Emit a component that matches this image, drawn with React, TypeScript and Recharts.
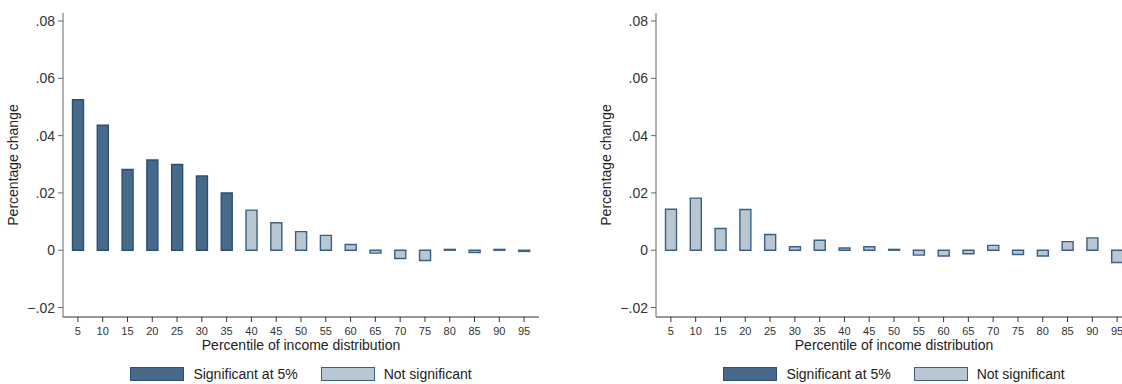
import { Bar, BarChart, Cell, Legend, XAxis, YAxis } from "recharts"

const percentiles = ["5", "10", "15", "20", "25", "30", "35", "40", "45", "50", "55", "60", "65", "70", "75", "80", "85", "90", "95"]

const leftValues = [0.0525, 0.0436, 0.0282, 0.0315, 0.0299, 0.0259, 0.02, 0.014, 0.0096, 0.0065, 0.0052, 0.002, -0.001, -0.0029, -0.0036, 0.0003, -0.0008, 0.0003, -0.0004]
const leftSignificant = [true, true, true, true, true, true, true, false, false, false, false, false, false, false, false, false, false, false, false]

const rightValues = [0.0143, 0.0182, 0.0076, 0.0142, 0.0055, 0.0012, 0.0035, 0.0008, 0.0012, 0.0003, -0.0017, -0.002, -0.0012, 0.0017, -0.0015, -0.002, 0.003, 0.0043, -0.0043]
const rightSignificant = [false, false, false, false, false, false, false, false, false, false, false, false, false, false, false, false, false, false, false]

const yTicks = [-0.02, 0, 0.02, 0.04, 0.06, 0.08]

const FONT = '"Liberation Sans", Arial, sans-serif'
const DARK_FILL = "#476a8b"
const DARK_STROKE = "#2b5075"
const LIGHT_FILL = "#b9c7d3"
const LIGHT_STROKE = "#3b6085"

// stata style: .02, 0, −.02
const fmt = (v: number) => {
  if (Math.abs(v) < 1e-9) return "0"
  return (v < 0 ? "\u2212" : "") + Math.abs(v).toFixed(2).replace(/^0/, "")
}

function LegendBox() {
  const item = (fill: string, stroke: string, text: string) => (
    <div style={{ display: "flex", alignItems: "center" }}>
      <div style={{ width: 52, height: 12, background: fill, border: `1.5px solid ${stroke}` }} />
      <span style={{ marginLeft: 9, fontSize: 14, fontFamily: FONT, color: "#222" }}>{text}</span>
    </div>
  )
  return (
    <div style={{ height: 32, display: "flex", alignItems: "flex-end", justifyContent: "center", gap: 23 }}>
      {item(DARK_FILL, DARK_STROKE, "Significant at 5%")}
      {item(LIGHT_FILL, LIGHT_STROKE, "Not significant")}
    </div>
  )
}

function Panel({ values, significant, left }: { values: number[]; significant: boolean[]; left: number }) {
  const data = percentiles.map((p, i) => ({ pct: p, value: values[i], sig: significant[i] }))
  return (
    <div style={{ position: "absolute", left, top: 0 }}>
      <BarChart width={560} height={384} data={data} margin={{ top: 13, right: 21, bottom: 2, left: 0 }}>
        <XAxis
          dataKey="pct"
          interval={0}
          tickSize={5}
          tickMargin={5}
          padding={{ left: 2.5, right: 2.5 }}
          height={33}
          stroke="#333"
          tick={{ fill: "#333", fontSize: 11, fontFamily: FONT }}
          label={{ value: "Percentile of income distribution", position: "insideBottom", offset: 0, fill: "#222", fontSize: 14, fontFamily: FONT }}
        />
        <YAxis
          width={63}
          type="number"
          domain={[-0.0233, 0.0828]}
          allowDataOverflow
          ticks={yTicks}
          tickFormatter={fmt}
          tickSize={5}
          tickMargin={3}
          stroke="#666"
          tick={{ fill: "#333", fontSize: 14, fontFamily: FONT }}
          label={{
            value: "Percentage change",
            angle: -90,
            position: "insideLeft",
            offset: 13,
            style: { textAnchor: "middle", fill: "#222", fontSize: 14, fontFamily: FONT },
          }}
        />
        <Legend verticalAlign="bottom" width={476} wrapperStyle={{ left: 63, bottom: 2 }} content={() => <LegendBox />} />
        <Bar dataKey="value" barSize={11} strokeWidth={1.4} isAnimationActive={false}>
          {data.map((d, i) => (
            <Cell key={i} fill={d.sig ? DARK_FILL : LIGHT_FILL} stroke={d.sig ? DARK_STROKE : LIGHT_STROKE} />
          ))}
        </Bar>
      </BarChart>
    </div>
  )
}

export default function App() {
  return (
    <div style={{ position: "absolute", left: 0, top: 0, width: 1122, height: 384, overflow: "hidden", background: "#fff" }}>
      <Panel values={leftValues} significant={leftSignificant} left={0} />
      <Panel values={rightValues} significant={rightSignificant} left={593} />
    </div>
  )
}
